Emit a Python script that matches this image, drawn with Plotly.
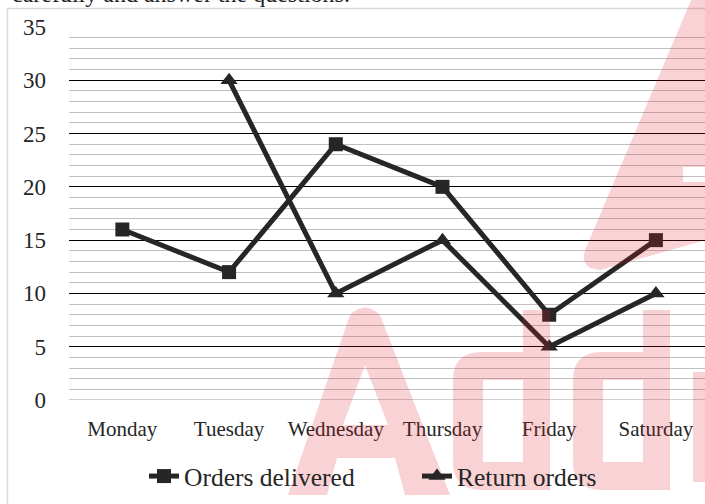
import plotly.graph_objects as go

days = ["Monday", "Tuesday", "Wednesday", "Thursday", "Friday", "Saturday"]
orders_delivered = [16, 12, 24, 20, 8, 15]
return_orders = [None, 30, 10, 15, 5, 10]
y_ticks = [0, 5, 10, 15, 20, 25, 30, 35]

W, H = 705, 504
ML, MR, MT, MB = 69, 0, 27, 104
PW, PH = W - ML - MR, H - MT - MB


def px(x):
    return (x - ML) / PW


def py(y):
    return (H - MB - y) / PH


def path(cmds):
    out = []
    for c in cmds:
        if isinstance(c, str):
            out.append(c)
        else:
            out.append(f"{px(c[0]):.5f},{py(c[1]):.5f}")
    return " ".join(out)


FONT = "Liberation Serif, DejaVu Serif, serif"
TXT = "#262626"
LINE = "#262626"

fig = go.Figure()
fig.add_trace(go.Scatter(
    x=days, y=orders_delivered, name="Orders delivered", mode="lines+markers",
    line=dict(color=LINE, width=5),
    marker=dict(symbol="square", size=14, color=LINE),
))
fig.add_trace(go.Scatter(
    x=days, y=return_orders, name="Return orders", mode="lines+markers",
    line=dict(color=LINE, width=5),
    marker=dict(symbol="triangle-up", size=15, color=LINE),
))

shapes = []
# gray baseline at y=0
shapes.append(dict(type="line", xref="paper", yref="y", x0=0, x1=1, y0=0, y1=0,
                   line=dict(color="#bfbfbf", width=1.3), layer="below"))
# chart border
shapes.append(dict(type="path", xref="paper", yref="paper",
                   path=path(["M", (7.5, 530), "L", (7.5, 8.5), "L", (720, 8.5)]),
                   line=dict(color="#d9d9d9", width=1.5), layer="above"))

WM = "rgba(220,30,40,0.2)"
# watermark "A"
shapes.append(dict(type="path", xref="paper", yref="paper", fillrule="evenodd",
                   path=path(["M", (288, 495), "L", (350, 315), "Q", (365, 300), (380, 315),
                              "L", (450, 495), "L", (405, 495), "L", (395, 458),
                              "L", (337, 458), "L", (327, 495), "Z",
                              "M", (343, 425), "L", (365, 365), "L", (388, 425), "Z"]),
                   fillcolor=WM, line=dict(width=0), layer="above"))
# watermark "d" x2
for off in (0, 120):
    shapes.append(dict(type="path", xref="paper", yref="paper", fillrule="evenodd",
                       path=path(["M", (550 + off, 310), "L", (550 + off, 490),
                                  "L", (482 + off, 490), "Q", (453 + off, 490), (453 + off, 462),
                                  "L", (453 + off, 380), "Q", (453 + off, 352), (482 + off, 352),
                                  "L", (523 + off, 352), "L", (523 + off, 310), "Z",
                                  "M", (483 + off, 380), "L", (523 + off, 380),
                                  "L", (523 + off, 462), "L", (483 + off, 462), "Z"]),
                       fillcolor=WM, line=dict(width=0), layer="above"))
# partial "a"
shapes.append(dict(type="path", xref="paper", yref="paper",
                   path=path(["M", (693, 372), "L", (706, 372), "L", (706, 482), "L", (693, 482), "Z"]),
                   fillcolor=WM, line=dict(width=0), layer="above"))
# top-right diagonal stroke
shapes.append(dict(type="path", xref="paper", yref="paper",
                   path=path(["M", (590, 268), "Q", (580, 262), (586, 248), "L", (692, -2),
                              "L", (706, -2), "L", (706, 167), "L", (683, 167), "L", (683, 182),
                              "L", (706, 182), "L", (706, 240), "L", (600, 270), "Z"]),
                   fillcolor=WM, line=dict(width=0), layer="above"))

annotations = [dict(
    text="carefully and answer the questions.", xref="paper", yref="paper",
    x=px(10), y=py(-6), xanchor="left", yanchor="middle", showarrow=False,
    font=dict(family=FONT, size=24, color="#222222"),
)]

fig.update_layout(
    width=W, height=H,
    margin=dict(l=ML, r=MR, t=MT, b=MB, pad=0),
    paper_bgcolor="white", plot_bgcolor="white",
    font=dict(family=FONT, color=TXT),
    showlegend=True,
    legend=dict(orientation="h", x=px(144), xanchor="left", y=py(453), yanchor="top",
                font=dict(family=FONT, size=25.5, color=TXT), itemwidth=30,
                entrywidth=228, entrywidthmode="pixels",
                bgcolor="rgba(0,0,0,0)", tracegroupgap=0),
    xaxis=dict(type="category", range=[-0.5, 5.46], showgrid=False, zeroline=False,
               showline=False, ticks="", tickfont=dict(family=FONT, size=21, color=TXT),
               ticklabelstandoff=14, fixedrange=True),
    yaxis=dict(range=[0, 35], tickvals=y_ticks, showgrid=True, gridcolor="#000000",
               gridwidth=1.3, zeroline=False, showline=False, ticks="",
               tickfont=dict(family=FONT, size=23, color=TXT), ticklabelstandoff=22,
               minor=dict(dtick=1, showgrid=True, gridcolor="#c0c0c0", gridwidth=1.3),
               fixedrange=True),
    shapes=shapes,
    annotations=annotations,
)

fig.write_html(
    "out.html",
    config={"displayModeBar": False},
    post_script="document.body.style.margin='0';document.body.style.padding='0';"
                "document.documentElement.style.overflow='hidden';",
)
